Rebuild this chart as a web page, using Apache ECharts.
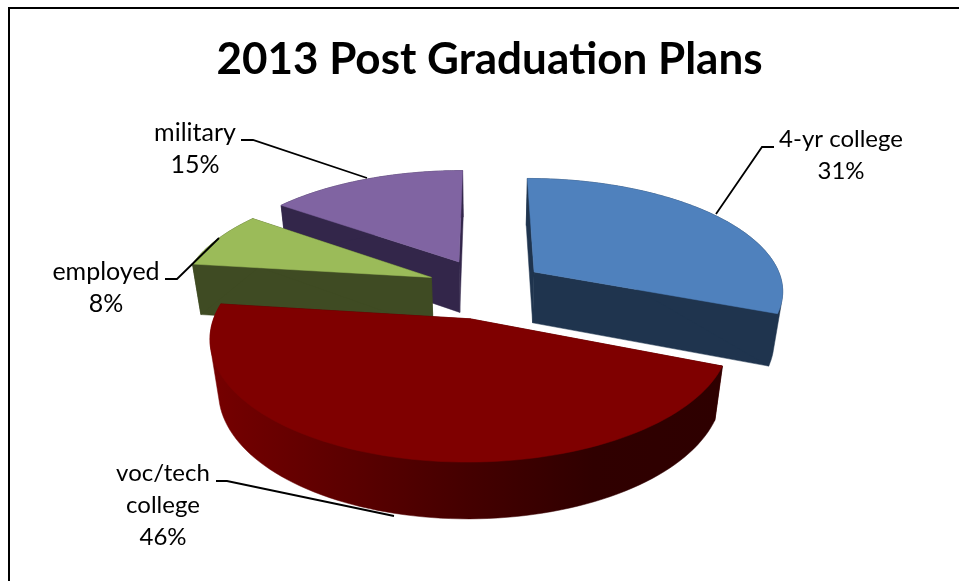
<!DOCTYPE html>
<html><head><meta charset="utf-8">
<style>html,body{margin:0;padding:0;background:#fff}#c{width:959px;height:581px}</style>
<script src="https://cdn.jsdelivr.net/npm/echarts@6/dist/echarts.min.js"></script>
</head><body><div id="c"></div>
<script>
const titleText = '2013 Post Graduation Plans';
const categories = ['4-yr college', 'voc/tech college', 'employed', 'military'];
const percentages = [31, 46, 8, 15];

const topColors = ['#4f81bd', '#7f0000', '#9bbb59', '#8064a2'];
const wallColors = ['#1f344e', '#500000', '#3f4b23', '#33264a'];
const nudges = [[0.5, 0, 1], [3, 1.5, 0.988], [10, 0, 1], [6.5, -1, 1]];
const drawOrder = [3, 2, 0, 1];
const labelLines = [['4-yr college'], ['voc/tech', 'college'], ['employed'], ['military']];
const labelCenters = [[841, 139], [163, 473], [106, 272], [195, 133]];
const labelSizes = [24, 24, 25, 25];
const leaders = [
  [[774, 147], [762, 147], [716, 214]],
  [[216, 481], [227, 481], [394, 516]],
  [[165, 279], [177, 279], [219, 238]],
  [[241, 140], [253, 140], [367, 178]]
];

const cam = { cx: 481, cy: 288, rx: 250, ry: 112, p: 0.15, q: 0.03, h: 53, explode: 0.26, anchorX: 722 };
const total = percentages.reduce((a, b) => a + b, 0);

function project(X, Y, depth, nudge) {
  const w = 1 + cam.p * Y + cam.q * depth;
  const x = cam.cx + nudge[0] + cam.rx * X / w;
  return [
    cam.anchorX + (x - cam.anchorX) * nudge[2],
    cam.cy + nudge[1] + (-cam.ry * Y + cam.h * depth) / w
  ];
}

function convexHull(points) {
  const pts = points.slice().sort((a, b) => a[0] - b[0] || a[1] - b[1]);
  const cross = (o, a, b) => (a[0] - o[0]) * (b[1] - o[1]) - (a[1] - o[1]) * (b[0] - o[0]);
  const sweep = list => {
    const out = [];
    for (const p of list) {
      while (out.length >= 2 && cross(out[out.length - 2], out[out.length - 1], p) <= 0) out.pop();
      out.push(p);
    }
    out.pop();
    return out;
  };
  return sweep(pts).concat(sweep(pts.slice().reverse()));
}

function renderSlice(params, api) {
  const i = api.value(0);
  const before = percentages.slice(0, i).reduce((a, b) => a + b, 0);
  const a0 = before / total * 2 * Math.PI;
  const a1 = (before + percentages[i]) / total * 2 * Math.PI;
  const mid = (a0 + a1) / 2;
  const ox = cam.explode * Math.sin(mid), oy = cam.explode * Math.cos(mid);
  const n = nudges[i];
  const P = (a, d) => project(ox + Math.sin(a), oy + Math.cos(a), d, n);
  const C = d => project(ox, oy, d, n);
  const steps = 90;
  const arcTop = [], arcBot = [];
  for (let s = 0; s <= steps; s++) {
    const a = a0 + (a1 - a0) * s / steps;
    arcTop.push(P(a, 0));
    arcBot.push(P(a, 1));
  }
  const wall = i === 1
    ? new echarts.graphic.LinearGradient(210, 0, 720, 0, [
        { offset: 0, color: '#760000' },
        { offset: 0.2, color: '#620000' },
        { offset: 0.5, color: '#450000' },
        { offset: 0.75, color: '#300000' },
        { offset: 1, color: '#2e0000' }
      ], true)
    : wallColors[i];
  const poly = (points, fill) => ({
    type: 'polygon', shape: { points },
    style: { fill, stroke: fill, lineWidth: 0.5 }
  });
  return {
    type: 'group',
    children: [
      poly([C(0), P(a0, 0), P(a0, 1), C(1)], wallColors[i]),
      poly([C(0), P(a1, 0), P(a1, 1), C(1)], wallColors[i]),
      poly(convexHull(arcTop.concat(arcBot)), wall),
      poly([C(0)].concat(arcTop), topColors[i])
    ]
  };
}

function renderLabel(params, api) {
  const i = api.value(0);
  const lines = labelLines[i].concat(percentages[i] + '%');
  const [x, y] = labelCenters[i];
  return {
    type: 'group',
    children: [{
      type: 'text',
      style: {
        x, y: y - 16, text: lines.join('\n'), align: 'center', verticalAlign: 'top',
        font: '400 ' + labelSizes[i] + 'px Lato', fill: '#000', lineHeight: 32
      }
    }, {
      type: 'polyline', shape: { points: leaders[i] },
      style: { stroke: '#000', lineWidth: 1.8, fill: 'none' }
    }]
  };
}

const chart = echarts.init(document.getElementById('c'), null, { renderer: 'canvas' });
chart.setOption({
  animation: false,
  backgroundColor: '#ffffff',
  title: {
    text: titleText, left: 484.5, textAlign: 'center', top: 33,
    textStyle: { fontFamily: 'Lato', fontWeight: 700, fontSize: 44, color: '#000' }
  },
  graphic: [{
    type: 'polyline',
    shape: { points: [[9, 600], [9, 8], [970, 8]] },
    style: { stroke: '#000', lineWidth: 2, fill: 'none' }
  }],
  series: [
    {
      type: 'custom', coordinateSystem: 'none', renderItem: renderSlice,
      data: drawOrder.map(i => ({ name: categories[i], value: [i, percentages[i]] })),
      z: 2
    },
    {
      type: 'custom', coordinateSystem: 'none', renderItem: renderLabel,
      data: categories.map((c, i) => ({ name: c, value: [i, percentages[i]] })),
      z: 3
    }
  ]
});
</script></body></html>
